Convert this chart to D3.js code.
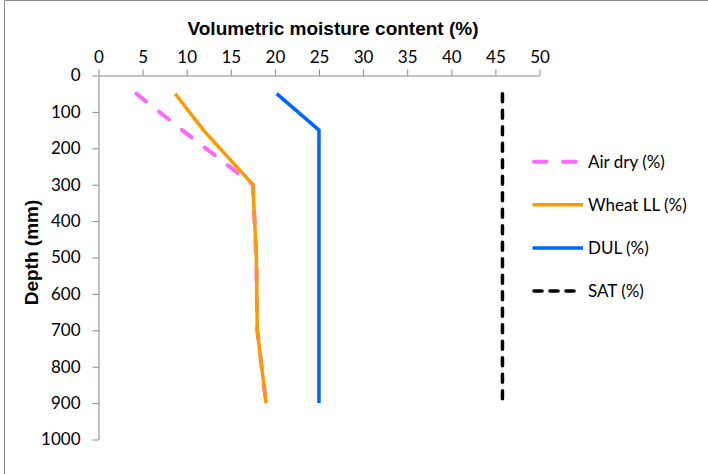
<!DOCTYPE html>
<html>
<head>
<meta charset="utf-8">
<script src="https://cdn.jsdelivr.net/npm/d3@7"></script>
<style>
  html, body { margin: 0; padding: 0; background: #fff; }
  svg { display: block; }
</style>
</head>
<body>
<svg id="chart" width="708" height="474"></svg>
<script>
// Soil water profile: depth (mm) against volumetric moisture content (%)
const depths = [50, 150, 300, 500, 700, 900];
const airDry = [4.3, 9.5, 17.5, 17.9, 18.0, 19.0];
const wheatLL = [8.7, 11.9, 17.5, 17.9, 18.0, 19.0];
const dul = [20.2, 25.0, 25.0, 25.0, 25.0, 25.0];
const sat = [45.8, 45.8, 45.8, 45.8, 45.8, 45.8];

const xTicks = [0, 5, 10, 15, 20, 25, 30, 35, 40, 45, 50];
const yTicks = [0, 100, 200, 300, 400, 500, 600, 700, 800, 900, 1000];

const seriesNames = ["Air dry (%)", "Wheat LL (%)", "DUL (%)", "SAT (%)"];
const seriesValues = [airDry, wheatLL, dul, sat];
const seriesStyle = [
  { color: "#ff66ff", width: 4, dash: "12.5,16.5", legendDash: "12.5,16.5" },
  { color: "#ff9900", width: 3.5, dash: null, legendDash: null },
  { color: "#0066ff", width: 3.5, dash: null, legendDash: null },
  { color: "#000000", width: 3.5, dash: "8,8.5", legendDash: "8,8" }
];

const svg = d3.select("#chart");
const axisColor = "#868686";
const tickFont = "Lato, 'Open Sans', sans-serif";
const boldFont = "'Liberation Sans', Arial, sans-serif";
const fmt = d3.format("d");

// outer frame (left and top edges visible)
svg.append("path")
  .attr("d", "M4.5,474V0.5H708")
  .attr("fill", "none")
  .attr("stroke", "#8c8c8c")
  .attr("stroke-width", 1);

const x = d3.scaleLinear().domain([0, 50]).range([98.5, 539.5]);
const y = d3.scaleLinear().domain([0, 1000]).range([75.5, 439.5]);

// top x axis
const gx = svg.append("g")
  .attr("transform", `translate(0,${y(0)})`)
  .call(d3.axisTop(x).tickValues(xTicks).tickFormat(fmt).tickSize(6).tickSizeOuter(0).tickPadding(7));
// left y axis
const gy = svg.append("g")
  .attr("transform", `translate(${x(0)},0)`)
  .call(d3.axisLeft(y).tickValues(yTicks).tickFormat(fmt).tickSize(6).tickSizeOuter(0).tickPadding(12));

[gx, gy].forEach(g => {
  g.select(".domain").attr("stroke", axisColor).attr("stroke-width", 1);
  g.selectAll(".tick line").attr("stroke", axisColor).attr("stroke-width", 1);
  g.selectAll(".tick text")
    .attr("fill", "#000")
    .style("font-family", tickFont)
    .style("font-size", "17px");
});

// series lines
const line = d3.line();
seriesValues.forEach((vals, i) => {
  const st = seriesStyle[i];
  const pts = depths.map((d, k) => [x(vals[k]), y(d)]);
  svg.append("path")
    .attr("d", line(pts))
    .attr("fill", "none")
    .attr("stroke", st.color)
    .attr("stroke-width", st.width)
    .attr("stroke-linejoin", "round")
    .attr("stroke-linecap", st.dash ? "round" : "butt")
    .attr("stroke-dasharray", st.dash);
});

// legend
const legendY = d3.scaleLinear().domain([0, 3]).range([161.7, 291]);
seriesNames.forEach((name, i) => {
  const st = seriesStyle[i];
  const ly = legendY(i);
  svg.append("line")
    .attr("x1", st.legendDash ? 534 : 532.5)
    .attr("x2", st.legendDash ? 576 : 583)
    .attr("y1", ly).attr("y2", ly)
    .attr("stroke", st.color)
    .attr("stroke-width", st.width)
    .attr("stroke-linecap", st.legendDash ? "round" : "butt")
    .attr("stroke-dasharray", st.legendDash);
  svg.append("text")
    .attr("x", 588)
    .attr("y", ly)
    .attr("dy", "0.36em")
    .style("font-family", tickFont)
    .style("font-size", "17px")
    .text(name);
});

// axis titles
svg.append("text")
  .attr("x", 333)
  .attr("y", 35)
  .attr("text-anchor", "middle")
  .style("font-family", boldFont)
  .style("font-weight", "bold")
  .style("font-size", "19px")
  .text("Volumetric moisture content (%)");

svg.append("text")
  .attr("transform", "translate(38,252.5) rotate(-90)")
  .attr("text-anchor", "middle")
  .style("font-family", boldFont)
  .style("font-weight", "bold")
  .style("font-size", "19px")
  .text("Depth (mm)");
</script>
</body>
</html>
